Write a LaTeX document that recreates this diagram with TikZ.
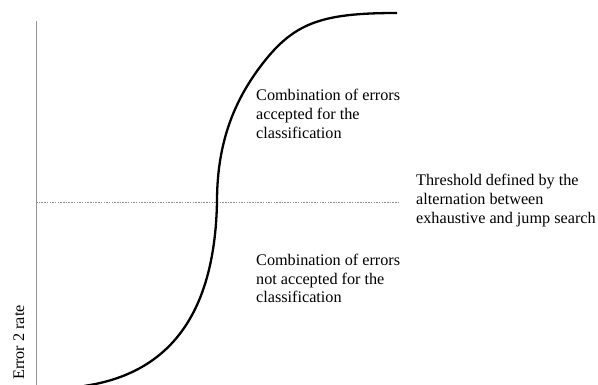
\documentclass[tikz,border=0pt]{standalone}
\usepackage{fontspec}
\setmainfont{Liberation Serif}
\begin{document}
\begin{tikzpicture}[x=1pt,y=-1pt,
  lbl/.style={inner sep=0pt,align=left,anchor=base west,font=\fontsize{16.2}{19}\selectfont},
  axisline/.style={draw=black!42,line width=0.8pt},
  thresh/.style={draw=black!45,line width=0.6pt,dash pattern=on 1.5pt off 1.2pt},
  curve/.style={draw=black,line width=2.3pt}]
\useasboundingbox (0,0) rectangle (598,385);
\clip (0,0) rectangle (598,385);
\coordinate (axtop) at (36,21);
\coordinate (axbot) at (36,386);
\coordinate (thl) at (36,202);
\coordinate (thr) at (400,202);
\coordinate (c0) at (84,386);
\coordinate (c1) at (217,202);
\coordinate (c2) at (260,67);
\coordinate (c3) at (397,13);
\draw[axisline] (axtop) -- (axbot);
\draw[thresh] (thl) -- (thr);
\draw[curve] (c0) .. controls (180,372) and (215,300) .. (c1)
  .. controls (217,150) and (230,107) .. (c2)
  .. controls (293,23) and (320,13) .. (c3);
\node[lbl] (up) at (256,139) {Combination of errors\\accepted for the\\classification};
\node[lbl] (th) at (416,224) {Threshold defined by the\\alternation between\\exhaustive and jump search};
\node[lbl] (lo) at (256,303) {Combination of errors\\not accepted for the\\classification};
\node[inner sep=0pt,anchor=base west,rotate=90,font=\fontsize{16.2}{19}\selectfont] (yl) at (24,380) {Error 2 rate};
\end{tikzpicture}
\end{document}
